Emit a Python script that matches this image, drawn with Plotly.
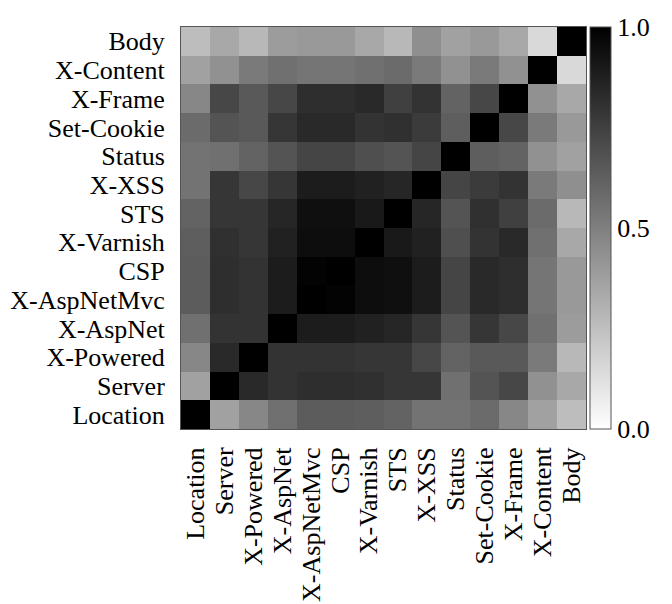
import plotly.graph_objects as go

labels = ["Location", "Server", "X-Powered", "X-AspNet", "X-AspNetMvc", "CSP",
          "X-Varnish", "STS", "X-XSS", "Status", "Set-Cookie", "X-Frame",
          "X-Content", "Body"]

# correlation matrix, rows/cols in the order of `labels`
corr = [
    [1.00, 0.37, 0.47, 0.56, 0.64, 0.64, 0.63, 0.61, 0.55, 0.55, 0.58, 0.47, 0.37, 0.26],
    [0.37, 1.00, 0.84, 0.80, 0.82, 0.82, 0.81, 0.79, 0.79, 0.56, 0.67, 0.72, 0.43, 0.34],
    [0.47, 0.84, 1.00, 0.80, 0.80, 0.80, 0.79, 0.79, 0.72, 0.61, 0.65, 0.65, 0.52, 0.28],
    [0.56, 0.80, 0.80, 1.00, 0.89, 0.89, 0.87, 0.85, 0.79, 0.67, 0.79, 0.72, 0.56, 0.39],
    [0.64, 0.82, 0.80, 0.89, 1.00, 0.99, 0.95, 0.94, 0.89, 0.73, 0.84, 0.82, 0.54, 0.40],
    [0.64, 0.82, 0.80, 0.89, 0.99, 1.00, 0.95, 0.94, 0.89, 0.73, 0.84, 0.82, 0.54, 0.40],
    [0.63, 0.81, 0.79, 0.87, 0.95, 0.95, 1.00, 0.90, 0.87, 0.69, 0.80, 0.84, 0.56, 0.34],
    [0.61, 0.79, 0.79, 0.85, 0.94, 0.94, 0.90, 1.00, 0.85, 0.67, 0.81, 0.75, 0.58, 0.28],
    [0.55, 0.79, 0.72, 0.79, 0.89, 0.89, 0.87, 0.85, 1.00, 0.73, 0.77, 0.80, 0.52, 0.44],
    [0.55, 0.56, 0.61, 0.67, 0.73, 0.73, 0.69, 0.67, 0.73, 1.00, 0.63, 0.61, 0.43, 0.37],
    [0.58, 0.67, 0.65, 0.79, 0.84, 0.84, 0.80, 0.81, 0.77, 0.63, 1.00, 0.72, 0.52, 0.40],
    [0.47, 0.72, 0.65, 0.72, 0.82, 0.82, 0.84, 0.75, 0.80, 0.61, 0.72, 1.00, 0.43, 0.34],
    [0.37, 0.43, 0.52, 0.56, 0.54, 0.54, 0.56, 0.58, 0.52, 0.43, 0.52, 0.43, 1.00, 0.15],
    [0.26, 0.34, 0.28, 0.39, 0.40, 0.40, 0.34, 0.28, 0.44, 0.37, 0.40, 0.34, 0.15, 1.00],
]

cbar_vals = [0.0, 0.5, 1.0]
cbar_text = ["0.0", "0.5", "1.0"]

FONT = "Liberation Serif"
FS = 26

fig = go.Figure(go.Heatmap(
    z=corr, x=labels, y=labels,
    zmin=0, zmax=1,
    colorscale=[[0, "rgb(255,255,255)"], [1, "rgb(0,0,0)"]],
    colorbar=dict(
        x=1.01, xanchor="left", xpad=0, ypad=0,
        y=0.5, yanchor="middle", len=1, lenmode="fraction",
        thickness=21, outlinewidth=1, outlinecolor="#555",
        tickvals=cbar_vals, ticktext=cbar_text, ticks="",
        tickfont=dict(family=FONT, size=FS, color="black"),
    ),
))

fig.update_layout(
    width=672, height=604,
    margin=dict(l=173, r=94, t=19, b=183, autoexpand=False),
    paper_bgcolor="white", plot_bgcolor="white",
    font=dict(family=FONT, size=FS, color="black"),
    xaxis=dict(tickmode="array", tickvals=labels, ticktext=labels, automargin=False,
               tickangle=-90, ticks="outside", ticklen=7, tickcolor="rgba(0,0,0,0)",
               showline=True, linecolor="#555", linewidth=1, mirror=True,
               showgrid=False, zeroline=False,
               tickfont=dict(family=FONT, size=FS, color="black")),
    yaxis=dict(tickmode="array", tickvals=labels, ticktext=labels, automargin=False,
               ticks="outside", ticklen=10, tickcolor="rgba(0,0,0,0)",
               showline=True, linecolor="#555", linewidth=1, mirror=True,
               showgrid=False, zeroline=False,
               tickfont=dict(family=FONT, size=FS, color="black")),
)

fig.write_html("out.html")
